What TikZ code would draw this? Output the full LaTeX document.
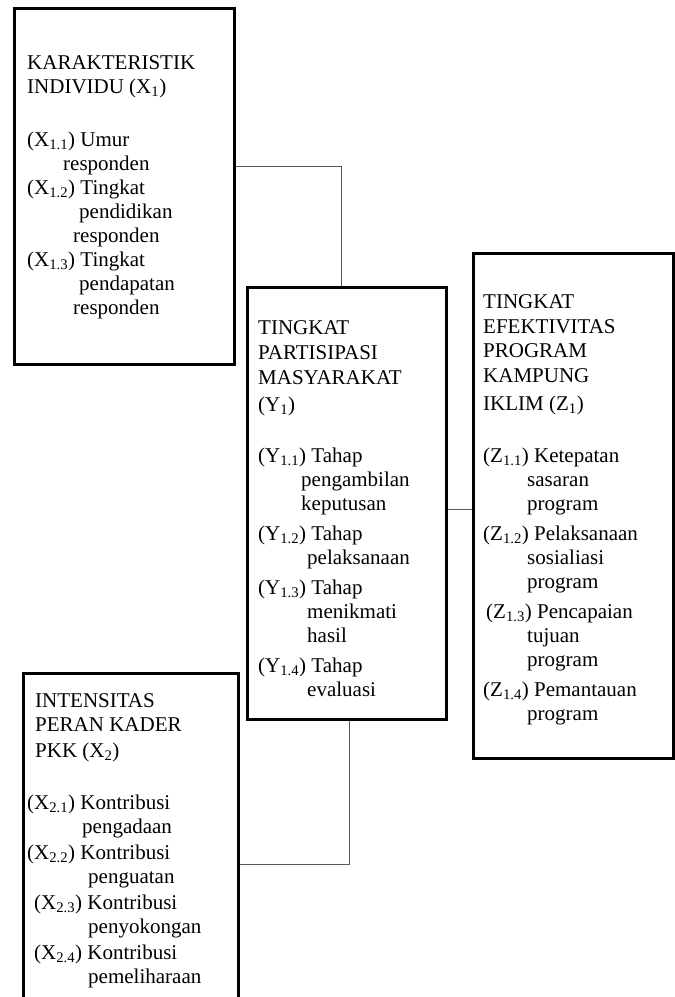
\documentclass[tikz,border=0pt]{standalone}
\usepackage{fontspec}
\setmainfont{Liberation Serif}
\usepackage{tikz}
\usetikzlibrary{positioning,calc}
\newcommand{\ix}[1]{\textsubscript{#1}}
\newcommand{\ind}[1]{\hspace*{#1pt}}

\begin{document}
\begin{tikzpicture}[x=1pt, y=-1pt,
  box/.style={draw, line width=2.7pt, anchor=north west, inner sep=0pt},
  txt/.style={anchor=north west, inner sep=0pt, align=left, font=\fontsize{21}{24}\selectfont},
  link/.style={draw=black!65, line width=0.9pt}]
  \useasboundingbox (0,0) rectangle (675,997);

  % the four boxes
  \node[box, minimum width=220pt, minimum height=356pt] (indiv) at (13,7) {};
  \node[box, minimum width=199pt, minimum height=432pt] (partis) at (246,286) {};
  \node[box, minimum width=200pt, minimum height=505pt] (efek) at (472,252) {};
  \node[box, minimum width=215pt, minimum height=350pt] (kader) at (22,672) {};

  \node[txt] (indivtxt) at (27,55) {KARAKTERISTIK\\
    INDIVIDU (X\ix{1})\\[29pt]
    (X\ix{1.1}) Umur\\
    \ind{36}responden\\
    (X\ix{1.2}) Tingkat\\
    \ind{52}pendidikan\\
    \ind{46}responden\\
    (X\ix{1.3}) Tingkat\\
    \ind{52}pendapatan\\
    \ind{46}responden};

  \node[txt] (partistxt) at (258,320) {TINGKAT\\[1pt]
    PARTISIPASI\\[1pt]
    MASYARAKAT\\[3pt]
    (Y\ix{1})\\[27pt]
    (Y\ix{1.1}) Tahap\\
    \ind{43}pengambilan\\
    \ind{43}keputusan\\[6pt]
    (Y\ix{1.2}) Tahap\\
    \ind{49}pelaksanaan\\[6pt]
    (Y\ix{1.3}) Tahap\\
    \ind{49}menikmati\\
    \ind{49}hasil\\[6pt]
    (Y\ix{1.4}) Tahap\\
    \ind{49}evaluasi};

  \node[txt] (efektxt) at (483,294) {TINGKAT\\[1pt]
    EFEKTIVITAS\\
    PROGRAM\\[1pt]
    KAMPUNG\\[4pt]
    IKLIM (Z\ix{1})\\[28pt]
    (Z\ix{1.1}) Ketepatan\\
    \ind{44}sasaran\\
    \ind{44}program\\[6pt]
    (Z\ix{1.2}) Pelaksanaan\\
    \ind{44}sosialiasi\\
    \ind{44}program\\[6pt]
    \ind{3}(Z\ix{1.3}) Pencapaian\\
    \ind{44}tujuan\\
    \ind{44}program\\[6pt]
    (Z\ix{1.4}) Pemantauan\\
    \ind{44}program};

  \node[txt] (kadertxt) at (27,693) {\ind{8}INTENSITAS\\
    \ind{8}PERAN KADER\\[2pt]
    \ind{8}PKK (X\ix{2})\\[28pt]
    (X\ix{2.1}) Kontribusi\\
    \ind{55}pengadaan\\[2pt]
    (X\ix{2.2}) Kontribusi\\
    \ind{61}penguatan\\[2pt]
    \ind{7}(X\ix{2.3}) Kontribusi\\
    \ind{61}penyokongan\\[2pt]
    \ind{7}(X\ix{2.4}) Kontribusi\\
    \ind{61}pemeliharaan};

  % connectors
  \draw[link] ([yshift=20pt]indiv.east) -| ([xshift=-5.5pt]partis.north);
  \draw[link] ([yshift=-6pt]partis.east) -- ([yshift=-6pt]partis.east -| efek.west);
  \draw[link] ([yshift=-16pt]kader.east) -| ([xshift=2.5pt]partis.south);
\end{tikzpicture}
\end{document}
